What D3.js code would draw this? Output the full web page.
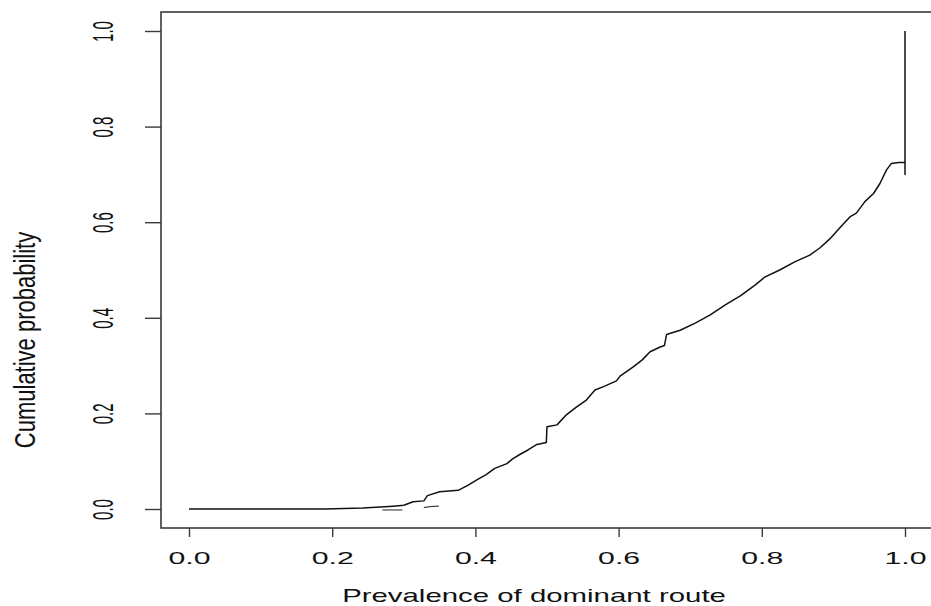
<!DOCTYPE html>
<html>
<head>
<meta charset="utf-8">
<script src="https://cdn.jsdelivr.net/npm/d3@7/dist/d3.min.js"></script>
<style>
  html, body { margin: 0; padding: 0; background: #fff; }
  svg { display: block; }
  text { font-family: "Liberation Sans", Arial, Helvetica, sans-serif; fill: #111; }
</style>
</head>
<body>
<svg id="chart" width="931" height="606"></svg>
<script>
// ---- data ----
const xTicks = [0.0, 0.2, 0.4, 0.6, 0.8, 1.0];
const yTicks = [0.0, 0.2, 0.4, 0.6, 0.8, 1.0];
const xTitle = "Prevalence of dominant route";
const yTitle = "Cumulative probability";

// empirical cumulative distribution (x = prevalence, y = cumulative probability)
const ecdfX = [0.000, 0.190, 0.243, 0.267, 0.285, 0.300, 0.313, 0.328, 0.333, 0.350, 0.376, 0.390, 0.402, 0.415, 0.427,
               0.444, 0.452, 0.462, 0.474, 0.486, 0.499, 0.500, 0.514, 0.527, 0.541, 0.555, 0.567, 0.579, 0.597,
               0.602, 0.621, 0.633, 0.644, 0.658, 0.664, 0.667, 0.686, 0.707, 0.728, 0.749, 0.770, 0.791, 0.804, 0.825,
               0.846, 0.867, 0.881, 0.895, 0.910, 0.923, 0.932, 0.944, 0.956, 0.965, 0.974, 0.981, 0.991, 1.000,
               1.000, 1.000];
const ecdfY = [0.000, 0.000, 0.002, 0.004, 0.006, 0.008, 0.015, 0.017, 0.028, 0.036, 0.039, 0.050, 0.061, 0.072, 0.085,
               0.095, 0.105, 0.114, 0.124, 0.135, 0.139, 0.172, 0.176, 0.197, 0.213, 0.228, 0.249, 0.256, 0.268,
               0.278, 0.298, 0.312, 0.329, 0.339, 0.342, 0.365, 0.374, 0.389, 0.406, 0.427, 0.446, 0.469, 0.485, 0.500,
               0.517, 0.531, 0.546, 0.565, 0.590, 0.611, 0.619, 0.643, 0.660, 0.681, 0.709, 0.723, 0.725, 0.725,
               0.700, 1.000];

// small stray fragments visible near the start of the rise
const strayA_X = [0.270, 0.298];
const strayA_Y = [-0.002, -0.002];
const strayB_X = [0.328, 0.336, 0.349];
const strayB_Y = [0.003, 0.005, 0.006];

// ---- drawing ----
const svg = d3.select("#chart");
const box = { left: 161, top: 12, bottom: 528, right: 945 };

const x = d3.scaleLinear().domain([0, 1]).range([189, 905]);
const y = d3.scaleLinear().domain([0, 1]).range([509, 31]);

// plot frame
svg.append("rect")
  .attr("x", box.left).attr("y", box.top)
  .attr("width", box.right - box.left).attr("height", box.bottom - box.top)
  .attr("fill", "none").attr("stroke", "#3a3a3a").attr("stroke-width", 1.6);

// x axis
const gx = svg.append("g")
  .attr("transform", `translate(0,${box.bottom})`)
  .call(d3.axisBottom(x).tickValues(xTicks).tickSize(9).tickFormat(d3.format(".1f")));
gx.select(".domain").remove();
gx.selectAll(".tick line").attr("stroke", "#3a3a3a").attr("stroke-width", 1.4);
gx.selectAll(".tick text")
  .attr("y", null).attr("dy", null)
  .attr("font-size", 17)
  .attr("text-anchor", "middle")
  .attr("transform", "translate(0,36) scale(1.78,1)")
  .style("fill", "#111");

// y axis
const gy = svg.append("g")
  .attr("transform", `translate(${box.left},0)`)
  .call(d3.axisLeft(y).tickValues(yTicks).tickSize(16).tickFormat(d3.format(".1f")));
gy.select(".domain").remove();
gy.selectAll(".tick line").attr("stroke", "#3a3a3a").attr("stroke-width", 1.4);
gy.selectAll(".tick text")
  .attr("x", null).attr("dy", null)
  .attr("font-size", 15)
  .attr("text-anchor", "middle")
  .attr("transform", "translate(-48,0) scale(2,1) rotate(-90)")
  .style("fill", "#111");

// axis titles
svg.append("text")
  .attr("text-anchor", "middle")
  .attr("font-size", 17.7)
  .attr("transform", "translate(534,602) scale(1.66,1)")
  .text(xTitle);

svg.append("text")
  .attr("text-anchor", "middle")
  .attr("font-size", 22)
  .attr("transform", "translate(35,340) scale(1.3,1) rotate(-90)")
  .text(yTitle);

// curve
const line = d3.line().x(d => x(d[0])).y(d => y(d[1]));

const ecdf = ecdfX.map((v, i) => [v, ecdfY[i]]);
svg.append("path")
  .datum(ecdf)
  .attr("d", line)
  .attr("fill", "none").attr("stroke", "#111").attr("stroke-width", 1.5)
  .attr("stroke-linejoin", "round");

svg.append("path")
  .datum(strayA_X.map((v, i) => [v, strayA_Y[i]]))
  .attr("d", line)
  .attr("fill", "none").attr("stroke", "#777").attr("stroke-width", 1.6);

svg.append("path")
  .datum(strayB_X.map((v, i) => [v, strayB_Y[i]]))
  .attr("d", line)
  .attr("fill", "none").attr("stroke", "#444").attr("stroke-width", 1.2);
</script>
</body>
</html>
